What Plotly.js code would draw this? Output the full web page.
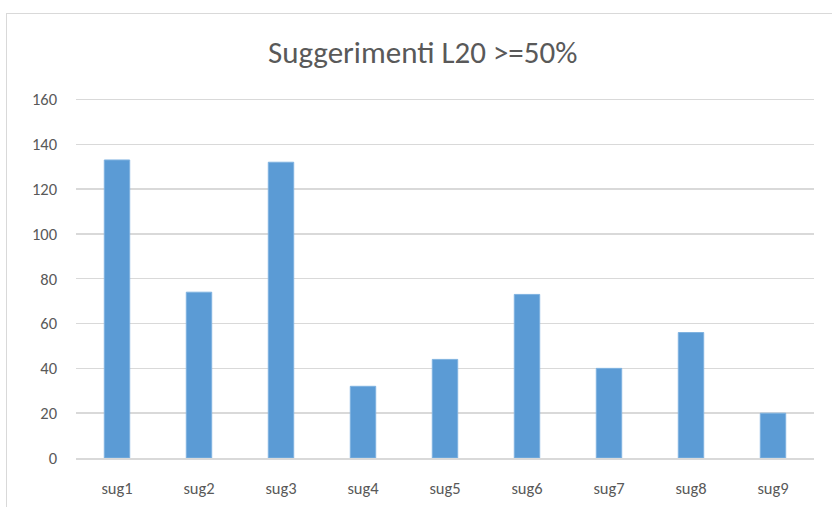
<!DOCTYPE html>
<html>
<head>
<meta charset="utf-8">
<script src="https://cdn.plot.ly/plotly-3.0.1.min.js"></script>
<style>
  html, body { margin: 0; padding: 0; background: #fff; overflow: hidden; }
  #chart { width: 832px; height: 507px; position: absolute; left: 0; top: 0; }
  #frame { position: absolute; left: 6px; top: 13px; width: 840px; height: 520px; border: 1px solid #d9d9d9; pointer-events: none; }
</style>
</head>
<body>
<div id="chart"></div>
<div id="frame"></div>
<script>
const categories = ["sug1", "sug2", "sug3", "sug4", "sug5", "sug6", "sug7", "sug8", "sug9"];
const values = [133, 74, 132, 32, 44, 73, 40, 56, 20];
const yTicks = [0, 20, 40, 60, 80, 100, 120, 140, 160];
const chartTitle = "Suggerimenti L20 >=50%";

const fontFam = "Carlito, Noto Sans, Open Sans, sans-serif";

Plotly.newPlot("chart", [{
  type: "bar",
  x: categories,
  y: values,
  marker: { color: "#5B9BD5", line: { color: "#7fb2e0", width: 1 } },
  hoverinfo: "x+y"
}], {
  width: 832,
  height: 507,
  paper_bgcolor: "#ffffff",
  plot_bgcolor: "#ffffff",
  margin: { l: 76, r: 18, t: 94.5, b: 48.5 },
  bargap: 0.69,
  showlegend: false,
  title: {
    text: chartTitle,
    font: { family: fontFam, size: 31, color: "#595959" },
    x: 0.508, xanchor: "center",
    y: 1 - 52 / 507, yanchor: "middle", yref: "container"
  },
  xaxis: {
    type: "category",
    showgrid: false,
    showline: true,
    linecolor: "#d9d9d9",
    linewidth: 1.5,
    ticks: "",
    tickfont: { family: fontFam, size: 16.5, color: "#595959" },
    ticklabelstandoff: 15,
    zeroline: false
  },
  yaxis: {
    range: [0, 162],
    tickvals: yTicks,
    ticktext: yTicks.map(String),
    showgrid: true,
    gridcolor: "#d9d9d9",
    gridwidth: 1.5,
    zeroline: false,
    showline: false,
    ticks: "",
    tickfont: { family: fontFam, size: 16.5, color: "#595959" },
    ticklabelstandoff: 18
  }
}, { displayModeBar: false, staticPlot: true });
</script>
</body>
</html>
